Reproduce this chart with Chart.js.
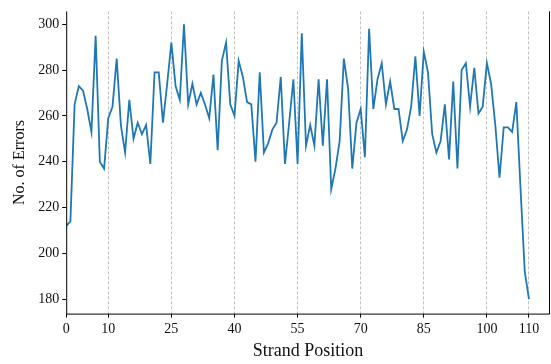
<!DOCTYPE html>
<html>
<head>
<meta charset="utf-8">
<script src="https://cdn.jsdelivr.net/npm/chart.js@4/dist/chart.umd.min.js"></script>
<style>
  html, body { margin: 0; padding: 0; background: #fff; }
  #wrap { width: 551px; height: 364px; }
</style>
</head>
<body>
<div id="wrap"><canvas id="errorsChart" width="551" height="364"></canvas></div>
<script>
// Errors per strand position
const positions = Array.from({ length: 111 }, (_, i) => i);
const errorCounts = [
    212, 214, 265, 273, 271, 263, 253, 295, 240, 237,
    259, 264, 285, 256, 244, 267, 250, 257, 252, 256,
    239, 279, 279, 257, 274, 292, 273, 267, 300, 265,
    274, 265, 270, 265, 259, 278, 245, 284, 292, 265,
    260, 284, 277, 266, 265, 240, 279, 244, 248, 254,
    257, 277, 239, 257, 276, 239, 296, 247, 256, 247,
    276, 247, 276, 228, 237, 249, 285, 272, 237, 257,
    263, 242, 298, 263, 276, 283, 265, 275, 263, 263,
    249, 254, 264, 286, 260, 288, 279, 252, 244, 249,
    265, 241, 275, 237, 280, 283, 264, 281, 261, 264,
    283, 274, 256, 233, 255, 255, 253, 266, 228, 192,
    180
];
const xTicks = [0, 10, 25, 40, 55, 70, 85, 100, 110];
const yTicks = [180, 200, 220, 240, 260, 280, 300];

const serif = '"Liberation Serif", "DejaVu Serif", serif';

// Draw the left, bottom and right frame lines
const framePlugin = {
    id: 'frame',
    afterDraw(chart) {
        const { ctx, chartArea: a } = chart;
        ctx.save();
        ctx.strokeStyle = '#000';
        ctx.lineWidth = 1;
        ctx.beginPath();
        ctx.moveTo(a.left + 0.5, a.top);
        ctx.lineTo(a.left + 0.5, a.bottom + 0.5);
        ctx.lineTo(a.right - 0.5, a.bottom + 0.5);
        ctx.lineTo(a.right - 0.5, a.top);
        ctx.stroke();
        ctx.restore();
    }
};

const ctx = document.getElementById('errorsChart').getContext('2d');
new Chart(ctx, {
    type: 'line',
    data: {
        labels: positions,
        datasets: [{
            data: positions.map((p, i) => ({ x: p, y: errorCounts[i] })),
            borderColor: '#1f77b4',
            borderWidth: 1.8,
            pointRadius: 0,
            tension: 0,
            fill: false
        }]
    },
    options: {
        responsive: false,
        animation: false,
        layout: { padding: { top: 0, right: 1, left: 10, bottom: 0 } },
        scales: {
            x: {
                type: 'linear',
                min: 0,
                max: 115,
                afterBuildTicks: s => { s.ticks = xTicks.map(v => ({ value: v })); },
                grid: {
                    color: ctx => ctx.tick && ctx.tick.value === 0 ? 'rgba(0,0,0,0)' : '#b0b0b0',
                    lineWidth: 0.8,
                    tickColor: '#000',
                    tickLength: 4,
                    tickBorderDash: [],
                    tickWidth: 1
                },
                border: { display: false, dash: [3, 2] },
                ticks: { color: '#111', font: { family: serif, size: 14 }, padding: 3, maxRotation: 0, autoSkip: false },
                title: { display: true, text: 'Strand Position', color: '#111', font: { family: serif, size: 18 }, padding: { top: 0, bottom: 2 } }
            },
            y: {
                min: 173.7,
                max: 305.6,
                afterBuildTicks: s => { s.ticks = yTicks.map(v => ({ value: v })); },
                grid: { drawOnChartArea: false, tickColor: '#000', tickLength: 4, tickWidth: 1 },
                border: { display: false },
                ticks: { color: '#111', font: { family: serif, size: 14 }, padding: 3 },
                title: { display: true, text: 'No. of Errors', color: '#111', font: { family: serif, size: 16 }, padding: { top: 0, bottom: 6 } }
            }
        },
        plugins: {
            legend: { display: false },
            tooltip: { enabled: false }
        }
    },
    plugins: [framePlugin]
});
</script>
</body>
</html>
